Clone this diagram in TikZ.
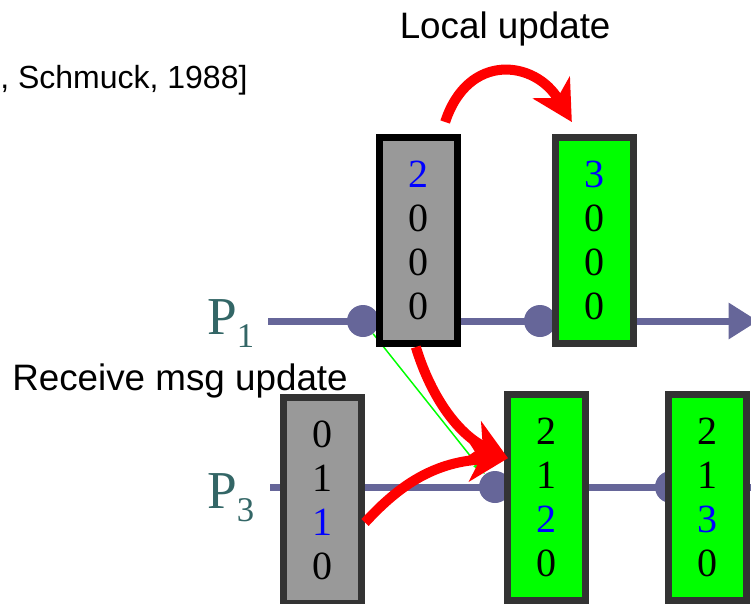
\documentclass[tikz,border=0pt]{standalone}
\usepackage{fontspec}
\setmainfont{Liberation Serif}
\newfontfamily\arialfont{Liberation Sans}
\usetikzlibrary{arrows.meta}
\definecolor{lineblue}{HTML}{666699}
\definecolor{boxgray}{HTML}{999999}
\definecolor{boxedge}{HTML}{333333}
\definecolor{plabel}{HTML}{336666}
\definecolor{msggreen}{HTML}{00FF00}

\begin{document}
\begin{tikzpicture}[x=0.75pt,y=-0.75pt,
  vclock/.style={draw=boxedge,line width=5.25pt,minimum width=58.5pt,minimum height=154.5pt,
    inner sep=0pt,align=center,font=\fontsize{30}{33}\selectfont},
  oldclock/.style={vclock,fill=boxgray},
  newclock/.style={vclock,fill=msggreen},
  event/.style={circle,fill=lineblue,minimum size=24pt,inner sep=0pt},
  timeline/.style={draw=lineblue,line width=5.25pt},
  upd/.style={draw=red,line width=7.5pt,-{Stealth[length=30pt,width=32pt,inset=9pt]}},
  msg/.style={draw=msggreen,line width=1.1pt,-{Triangle[length=10pt,width=6pt]}},
  caption/.style={anchor=base west,inner sep=0pt,font=\arialfont\fontsize{27.6}{27.6}\selectfont},
  proc/.style={anchor=base west,inner sep=0pt,text=plabel,font=\fontsize{40}{40}\selectfont}]
\clip (0,0) rectangle (751,604);

\coordinate (p1s) at (268,321);
\coordinate (p1e) at (758,321);
\coordinate (p3s) at (270,487);
\coordinate (p3e) at (760,487);
\draw[timeline,-{Triangle[length=22pt,width=26pt]}] (p1s) -- (p1e);
\draw[timeline] (p3s) -- (p3e);

\node[event] (d11) at (363,321) {};
\node[event] (d12) at (540,321) {};
\node[event] (d31) at (495,487) {};
\node[event] (d32) at (671,487) {};
\draw[msg] (d11) -- (d31);

\node[oldclock,draw=black] (P1a) at (418.5,240.5) {\textcolor{blue}{2}\\0\\0\\0};
\node[newclock] (P1b) at (594.5,240.5) {\textcolor{blue}{3}\\0\\0\\0};
\node[oldclock] (P3a) at (322.5,500.5) {0\\1\\\textcolor{blue}{1}\\0};
\node[newclock] (P3b) at (546.5,497.5) {2\\1\\\textcolor{blue}{2}\\0};
\node[newclock] (P3c) at (707,497.5) {2\\1\\\textcolor{blue}{3}\\0};

\node[proc] (lp1) at (207,334) {P\raisebox{-9.75pt}{\fontsize{26}{26}\selectfont 1}};
\node[proc] (lp3) at (207,508) {P\raisebox{-9.75pt}{\fontsize{26}{26}\selectfont 3}};

\node[caption] (loc) at (399.5,38) {Local update};
\node[caption] (rcv) at (12,390) {Receive msg update};
\node[caption,font=\arialfont\fontsize{24}{24}\selectfont] (ref) at (0,88) {, Schmuck, 1988]};

\draw[upd] ([xshift=20pt,yshift=9pt]P1a.north) .. controls (468,52) and (535,60) .. ([xshift=-17pt,yshift=9pt]P1b.north);
\draw[upd] ([xshift=-2pt]P1a.south) .. controls (432,400) and (460,435) .. ([xshift=3pt,yshift=29.5pt]P3b.west);
\draw[upd] ([yshift=-16.5pt]P3a.east) .. controls (395,490) and (430,462) .. ([xshift=3pt,yshift=29.5pt]P3b.west);
\end{tikzpicture}
\end{document}
